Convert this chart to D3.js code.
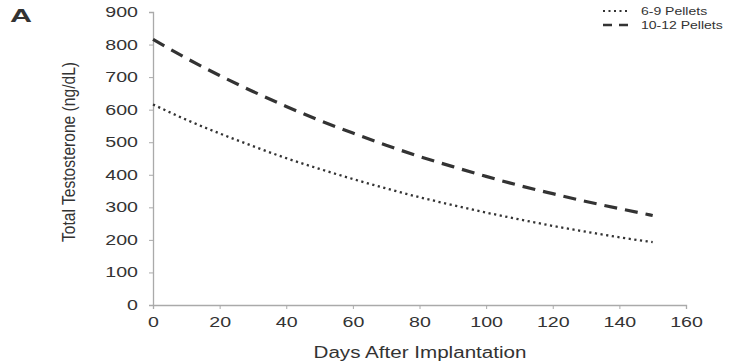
<!DOCTYPE html>
<html><head><meta charset="utf-8">
<script src="https://cdn.jsdelivr.net/npm/d3@7"></script>
<style>body{margin:0;background:#fff}svg{display:block}</style>
</head><body><svg id="c" width="736" height="364"></svg>
<script>
const days = [0,10,20,30,40,50,60,70,80,90,100,110,120,130,140,150];
const pellets6to9 = [616,569,527,488,451,418,387,358,331,307,284,263,243,225,208,193];
const pellets10to12 = [816,758,705,656,610,567,528,491,456,425,395,367,342,318,296,275];
const xTicks = [0,20,40,60,80,100,120,140,160];
const yTicks = [0,100,200,300,400,500,600,700,800,900];
const seriesNames = ["6-9 Pellets","10-12 Pellets"];

const svg = d3.select("#c");
const x = d3.scaleLinear().domain([0,160]).range([153,686]);
const y = d3.scaleLinear().domain([0,900]).range([305,12]);
const font = "Liberation Sans, Arial, sans-serif";
const SX = 1.4;
function stretch(sel){
  sel.each(function(){
    const w = this.getComputedTextLength();
    d3.select(this).attr("textLength", w*SX).attr("lengthAdjust","spacingAndGlyphs");
  });
}

const gx = svg.append("g").attr("transform","translate(0,305)")
  .call(d3.axisBottom(x).tickValues(xTicks).tickSize(4).tickPadding(8));
const gy = svg.append("g").attr("transform","translate(153,0)")
  .call(d3.axisLeft(y).tickValues(yTicks).tickSize(4).tickPadding(11));
[gx,gy].forEach(g=>{
  g.select(".domain").attr("stroke","#aaa").attr("stroke-width",1.3);
  g.selectAll(".tick line").attr("stroke","#aaa");
  g.selectAll(".tick text").attr("fill","#333").attr("font-size",14).attr("font-family",font).call(stretch);
});

const line = d3.line().x((d,i)=>x(days[i])).y(d=>y(d)).curve(d3.curveMonotoneX);
svg.append("path").datum(pellets10to12).attr("d",line).attr("fill","none")
  .attr("stroke","#333").attr("stroke-width",3.2).attr("stroke-dasharray","13,8");
svg.append("path").datum(pellets6to9).attr("d",line).attr("fill","none")
  .attr("stroke","#333").attr("stroke-width",2.3).attr("stroke-dasharray","2.2,3.5");

// legend
const lg = svg.append("g");
lg.append("line").attr("x1",603).attr("x2",630).attr("y1",11).attr("y2",11)
  .attr("stroke","#333").attr("stroke-width",2).attr("stroke-dasharray","2,3.5");
lg.append("line").attr("x1",603).attr("x2",631).attr("y1",25).attr("y2",25)
  .attr("stroke","#333").attr("stroke-width",2.5).attr("stroke-dasharray","9,7");
lg.selectAll("text").data(seriesNames).join("text")
  .attr("x",641).attr("y",(d,i)=>11+14*i).attr("dy","0.35em")
  .attr("font-size",10).attr("font-family",font).attr("fill","#333").text(d=>d).call(stretch);

// titles
svg.append("text").attr("x",420).attr("y",358).attr("text-anchor","middle")
  .attr("font-size",16).attr("font-family",font).attr("fill","#333").text("Days After Implantation")
  .attr("textLength",213).attr("lengthAdjust","spacingAndGlyphs");
svg.append("text").attr("transform","translate(75,152) scale(1.3,1) rotate(-90)").attr("text-anchor","middle")
  .attr("font-size",14).attr("font-family",font).attr("fill","#333")
  .attr("textLength",180).attr("lengthAdjust","spacingAndGlyphs")
  .text("Total Testosterone (ng/dL)");
svg.append("text").attr("x",10).attr("y",22).attr("font-size",18).attr("font-weight","bold")
  .attr("font-family",font).attr("fill","#333").attr("textLength",22).attr("lengthAdjust","spacingAndGlyphs").text("A");
</script></body></html>
